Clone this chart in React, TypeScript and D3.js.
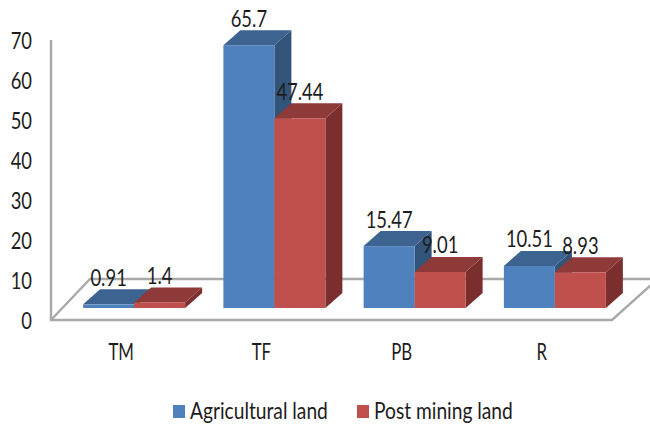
import React, { useEffect, useRef } from 'react'
import * as d3 from 'd3'

const categories = ['TM', 'TF', 'PB', 'R']
const seriesNames = ['Agricultural land', 'Post mining land']
const agricultural = [0.91, 65.7, 15.47, 10.51]
const postMining = [1.4, 47.44, 9.01, 8.93]
const yTicks = [0, 10, 20, 30, 40, 50, 60, 70]

const fronts = ['#4F81BD', '#C0504D']
const tops = ['#3D6390', '#8E3A38']
const sides = ['#335479', '#7A2F2E']
const wall = '#A9A9A9'
const ink = '#1c1c1c'
const font = 'Lato, sans-serif'

// the bars stand part way back on the floor, like excel's 3d columns
const depthX = 17
const depthY = 15
const baseShiftX = 13
const baseShiftY = 12
const floorX = 39
const floorY = 41

const width = 650
const height = 426
const squeeze = 0.8

const App: React.FC = () => {
  const svgRef = useRef<SVGSVGElement>(null)

  useEffect(() => {
    if (!svgRef.current) return
    const svg = d3.select(svgRef.current)
    svg.selectAll('*').remove()

    const x = d3.scaleBand().domain(categories).range([51, 612])
    const inner = d3.scaleBand().domain(seriesNames).range([0, 102])
    const y = d3.scaleLinear().domain([0, 70]).range([320, 40])
    const x0 = y(0)
    const right = x.range()[1]

    const values = [agricultural, postMining]

    // floor and wall
    const frame = svg.append('g').attr('fill', 'none').attr('stroke', wall).attr('stroke-width', 2.4)
    frame
      .append('path')
      .attr(
        'd',
        d3.line()([
          [51, y(70)],
          [51, x0],
          [right, x0],
          [right + floorX, x0 - floorY + 6],
        ]),
      )
    frame
      .append('path')
      .attr(
        'd',
        d3.line()([
          [51, x0],
          [51 + floorX, x0 - floorY],
          [width, x0 - floorY],
        ]),
      )

    const squeezed = (
      sel: d3.Selection<SVGGElement, unknown, null, undefined>,
      px: number,
      py: number,
      label: string,
      size: number,
      anchor: string,
    ) =>
      sel
        .append('text')
        .attr('transform', `translate(${px},${py}) scale(${squeeze},1)`)
        .attr('text-anchor', anchor)
        .attr('font-family', font)
        .attr('font-size', size)
        .attr('fill', ink)
        .text(label)

    // y axis labels, the axis generator gives the tick positions
    const yAxis = svg
      .append('g')
      .attr('transform', 'translate(32,0)')
      .call(d3.axisLeft(y).tickValues(yTicks).tickSize(0).tickPadding(0))
    yAxis.select('.domain').remove()
    yAxis
      .selectAll('text')
      .attr('font-family', font)
      .attr('font-size', 23)
      .attr('fill', ink)
      .attr('dy', '0.36em')
      .attr('transform', `scale(${squeeze},1)`)

    // categories
    const xAxis = svg
      .append('g')
      .attr('transform', 'translate(0,344)')
      .call(d3.axisBottom(x).tickSize(0).tickPadding(0))
    xAxis.select('.domain').remove()
    xAxis
      .selectAll('text')
      .attr('font-family', font)
      .attr('font-size', 23)
      .attr('fill', ink)
      .attr('dy', '0.71em')
      .attr('transform', 'scale(0.73,1)')

    const bars = svg.append('g')
    const labels = svg.append('g')

    // series drawn left to right so the red box overlaps the blue side
    categories.forEach((cat, c) => {
      seriesNames.forEach((name, s) => {
        const v = values[s][c]
        const left = (x(cat) as number) + (x.bandwidth() - 102) / 2 + baseShiftX + (inner(name) as number)
        const w = inner.bandwidth()
        const top = y(v) - baseShiftY
        const base = x0 - baseShiftY

        bars
          .append('path')
          .attr('fill', sides[s])
          .attr(
            'd',
            d3.line()([
              [left + w, top],
              [left + w + depthX, top - depthY],
              [left + w + depthX, base - depthY],
              [left + w, base],
            ]) + 'Z',
          )
        bars
          .append('path')
          .attr('fill', tops[s])
          .attr(
            'd',
            d3.line()([
              [left, top],
              [left + depthX, top - depthY],
              [left + w + depthX, top - depthY],
              [left + w, top],
            ]) + 'Z',
          )
        bars.append('rect').attr('x', left).attr('y', top).attr('width', w).attr('height', base - top).attr('fill', fronts[s])

        squeezed(labels, left + w / 2, top - 18.5, String(v), 23, 'middle')
      })
    })

    // legend
    const legend = svg.append('g')
    const legendX = [173, 357]
    seriesNames.forEach((name, s) => {
      legend.append('rect').attr('x', legendX[s]).attr('y', 405).attr('width', 12).attr('height', 13).attr('fill', fronts[s])
      squeezed(legend, legendX[s] + 17, 419, name, 24, 'start')
    })
  }, [])

  return (
    <svg
      ref={svgRef}
      width={width}
      height={height}
      style={{ position: 'absolute', left: 0, top: 0, background: '#fff' }}
    />
  )
}

export default App
